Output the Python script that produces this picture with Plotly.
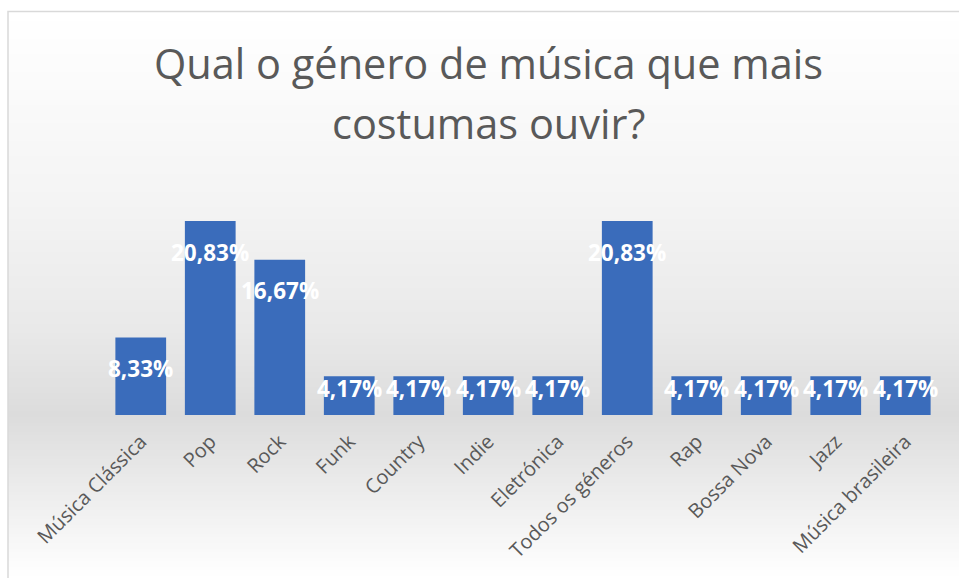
import plotly.graph_objects as go

# Survey results: favourite music genre (share of answers, %)
genres = [
    "Música Clássica", "Pop", "Rock", "Funk", "Country", "Indie",
    "Eletrónica", "Todos os géneros", "Rap", "Bossa Nova", "Jazz",
    "Música brasileira",
]
shares = [8.33, 20.83, 16.67, 4.17, 4.17, 4.17, 4.17, 20.83, 4.17, 4.17, 4.17, 4.17]
labels = [f"{v:.2f}".replace(".", ",") + "%" for v in shares]

title_lines = ["Qual o género de música que mais", "costumas ouvir?"]

W, H = 959, 578
ML, MR, MT, MB = 106, 19, 200, 163
PX_PER_UNIT = 9.31                      # vertical pixels per percentage point
y_top = (H - MB - MT) / PX_PER_UNIT     # axis range that keeps that scale

plot_w = W - ML - MR
plot_h = H - MT - MB


def px_to_paper_x(px):
    return (px - ML) / plot_w


def px_to_paper_y(py):
    return (H - MB - py) / plot_h


def grey_at(py):
    # vertical background shading: light at the top, darker at the axis line,
    # fading back to white at the bottom
    stops = [(0, 255), (12, 255), (200, 244), (330, 233), (415, 220), (578, 255)]
    for (y0, g0), (y1, g1) in zip(stops, stops[1:]):
        if y0 <= py <= y1:
            t = (py - y0) / (y1 - y0) if y1 > y0 else 0
            return round(g0 + (g1 - g0) * t)
    return 255


shapes = []
step = 3
for py in range(12, H, step):
    g = grey_at(py + step / 2)
    shapes.append(dict(
        type="rect", xref="paper", yref="paper", layer="below",
        x0=px_to_paper_x(8), x1=px_to_paper_x(W + 5),
        y0=px_to_paper_y(py + step + 0.5), y1=px_to_paper_y(py),
        fillcolor=f"rgb({g},{g},{g})", line=dict(width=0),
    ))
# chart frame
shapes.append(dict(
    type="rect", xref="paper", yref="paper", layer="above",
    x0=px_to_paper_x(8), x1=px_to_paper_x(W + 10),
    y0=px_to_paper_y(H + 10), y1=px_to_paper_y(11.5),
    fillcolor="rgba(0,0,0,0)", line=dict(color="#d9d9d9", width=1.5),
))

fig = go.Figure(go.Bar(
    x=genres, y=shares,
    marker=dict(color="#3a6cbb", line=dict(width=0)),
    width=0.73,
    hoverinfo="skip",
))

annotations = []
for g, v, lab in zip(genres, shares, labels):
    offset = 31 if v > 6 else 12
    annotations.append(dict(
        x=g, y=v, xref="x", yref="y", text=lab, showarrow=False,
        yanchor="middle", yshift=-offset,
        font=dict(family="Open Sans", size=22.5, color="white", weight="bold"),
    ))

# two-line title, each line placed at its own pixel row
title_rows = [63, 123]
for line, ty in zip(title_lines, title_rows):
    annotations.append(dict(
        x=px_to_paper_x(488), y=px_to_paper_y(ty), xref="paper", yref="paper",
        text=line, showarrow=False, xanchor="center", yanchor="middle",
        font=dict(family="Open Sans", size=41.5, color="#595959"),
    ))

fig.update_layout(
    width=W, height=H,
    margin=dict(l=ML, r=MR, t=MT, b=MB, autoexpand=False),
    paper_bgcolor="white", plot_bgcolor="rgba(0,0,0,0)",
    shapes=shapes, annotations=annotations,
    showlegend=False,
    bargap=0.27,
    xaxis=dict(
        tickangle=-45, showgrid=False, zeroline=False, showline=False,
        ticks="", ticklabelstandoff=10,
        tickfont=dict(family="Open Sans", size=20, color="#595959"),
    ),
    yaxis=dict(range=[0, y_top], visible=False, fixedrange=True),
)

fig.write_html("out.html")
